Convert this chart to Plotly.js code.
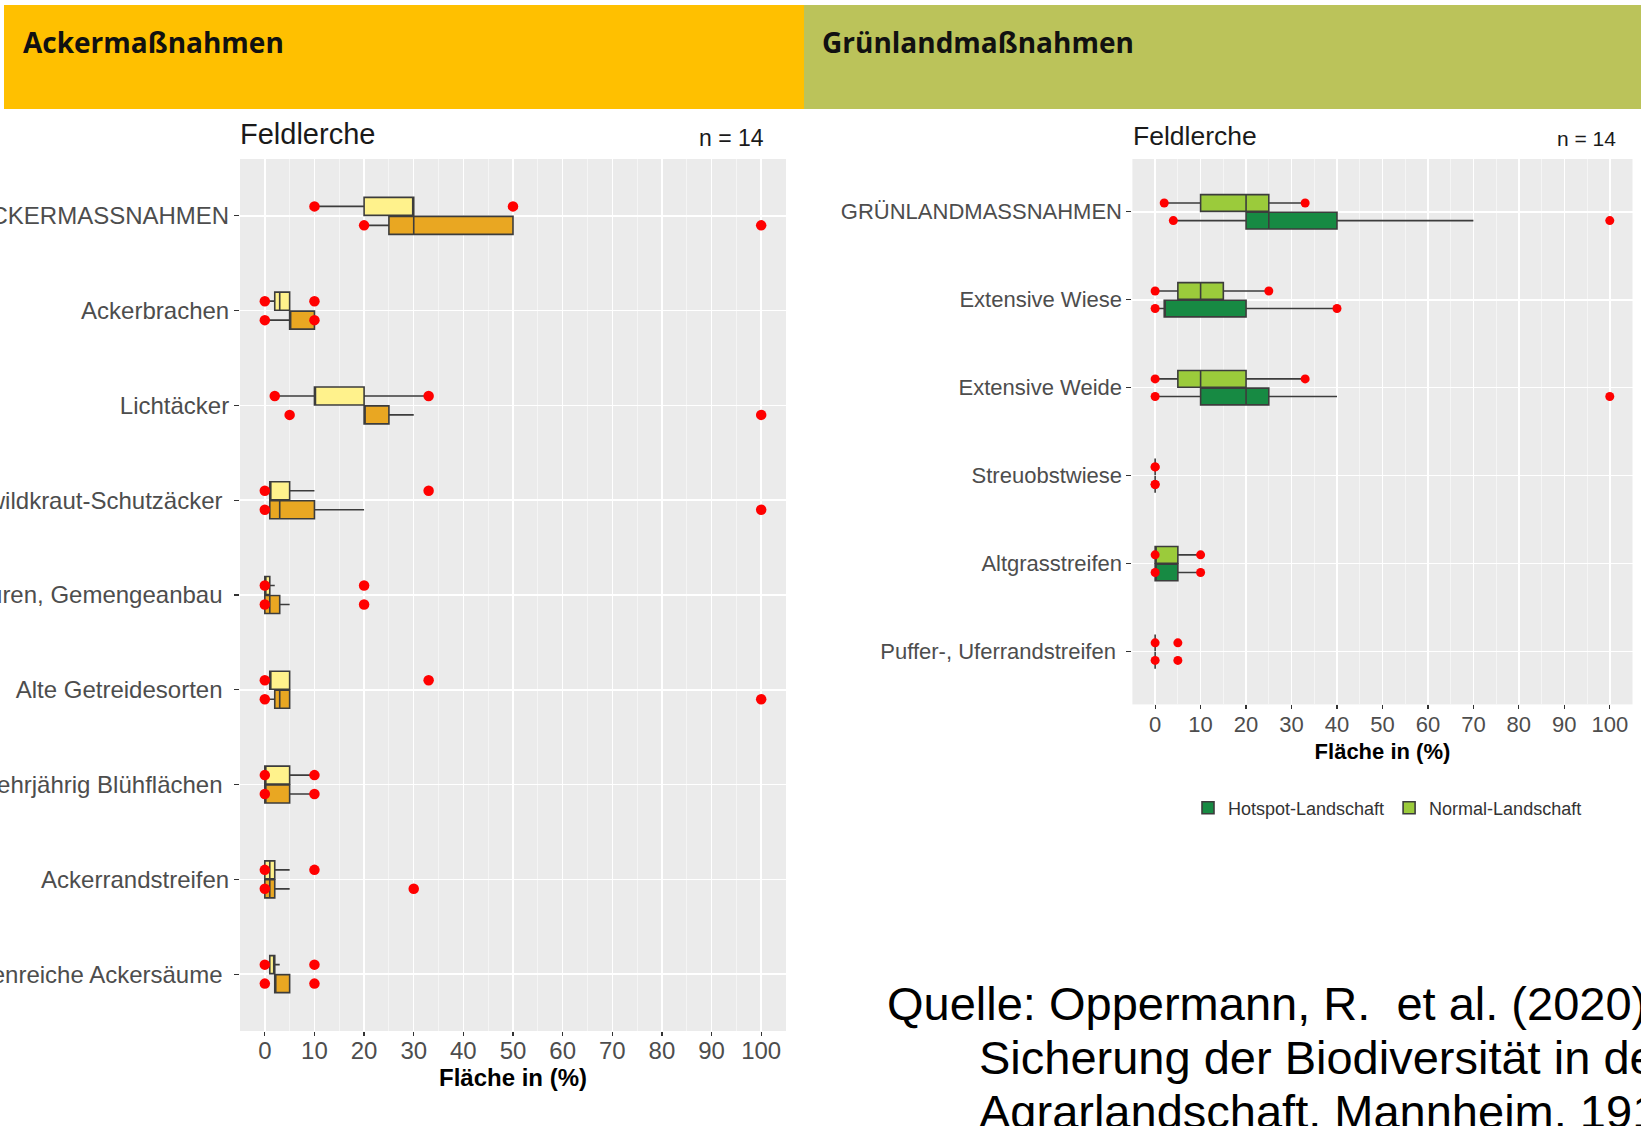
<!DOCTYPE html>
<html>
<head>
<meta charset="utf-8">
<script src="https://cdn.plot.ly/plotly-3.0.1.min.js"></script>
<style>
  html, body { margin: 0; padding: 0; background: #ffffff; }
  #chart { width: 1641px; height: 1126px; }
</style>
</head>
<body>
<div id="chart"></div>
<script>
// ---- Ackermaßnahmen (top to bottom) ----
const ackerLabels = [
  "ACKERMASSNAHMEN", "Ackerbrachen", "Lichtäcker", "Ackerwildkraut-Schutzäcker\u00a0",
  "Vielfältige Kulturen, Gemengeanbau\u00a0", "Alte Getreidesorten\u00a0",
  "Mehrjährig Blühflächen\u00a0", "Ackerrandstreifen", "Blütenreiche Ackersäume\u00a0"
];
// Normal-Landschaft
const ackerNormalLowerFence = [10, 0, 2, 0, 0, 0, 0, 0, 1];
const ackerNormalQ1         = [20, 2, 10, 1, 0, 1, 0, 0, 1];
const ackerNormalMedian     = [30, 3, 10, 1, 0, 1, 0, 1, 2];
const ackerNormalQ3         = [30, 5, 20, 5, 1, 5, 5, 2, 2];
const ackerNormalUpperFence = [30, 5, 33, 10, 2, 5, 10, 5, 3];
const ackerNormalMin        = [10, 0, 2, 0, 0, 0, 0, 0, 0];
const ackerNormalMax        = [50, 10, 33, 33, 20, 33, 10, 10, 10];
// Hotspot-Landschaft
const ackerHotspotLowerFence = [20, 0, 20, 0, 0, 0, 0, 0, 2];
const ackerHotspotQ1         = [25, 5, 20, 1, 0, 2, 0, 0, 2];
const ackerHotspotMedian     = [30, 5, 20, 3, 1, 3, 0, 1, 2];
const ackerHotspotQ3         = [50, 10, 25, 10, 3, 5, 5, 2, 5];
const ackerHotspotUpperFence = [50, 10, 30, 20, 5, 5, 10, 5, 5];
const ackerHotspotMin        = [20, 0, 5, 0, 0, 0, 0, 0, 0];
const ackerHotspotMax        = [100, 10, 100, 100, 20, 100, 10, 30, 10];

// ---- Grünlandmaßnahmen (top to bottom) ----
const gruenLabels = [
  "GRÜNLANDMASSNAHMEN", "Extensive Wiese", "Extensive Weide",
  "Streuobstwiese", "Altgrasstreifen", "Puffer-, Uferrandstreifen\u00a0"
];
const gruenNormalLowerFence = [2, 0, 0, 0, 0, 0];
const gruenNormalQ1         = [10, 5, 5, 0, 0, 0];
const gruenNormalMedian     = [20, 10, 10, 0, 0, 0];
const gruenNormalQ3         = [25, 15, 20, 0, 5, 0];
const gruenNormalUpperFence = [33, 25, 33, 0, 10, 0];
const gruenNormalMin        = [2, 0, 0, 0, 0, 0];
const gruenNormalMax        = [33, 25, 33, 0, 10, 5];

const gruenHotspotLowerFence = [4, 0, 0, 0, 0, 0];
const gruenHotspotQ1         = [20, 2, 10, 0, 0, 0];
const gruenHotspotMedian     = [25, 2, 20, 0, 0, 0];
const gruenHotspotQ3         = [40, 20, 25, 0, 5, 0];
const gruenHotspotUpperFence = [70, 40, 40, 0, 10, 0];
const gruenHotspotMin        = [4, 0, 0, 0, 0, 0];
const gruenHotspotMax        = [100, 40, 100, 0, 10, 5];

const xTicks = [0, 10, 20, 30, 40, 50, 60, 70, 80, 90, 100];

// ---- page geometry helpers ----
const W = 1641, H = 1126;
const FONT = "Liberation Sans, Arial, sans-serif";
const fx = px => px / W;
const fy = py => 1 - py / H;

const COL = {
  ackerNormal: "#FFF28C", ackerHotspot: "#E9A722",
  gruenNormal: "#9BCB3B", gruenHotspot: "#178A43",
  outline: "#3C3C3C", dot: "#FF0000"
};
const DODGE = 0.1, BOXW = 0.19;

function boxTrace(name, xa, ya, n, shift, lf, q1, med, q3, uf, fill, legend) {
  return {
    type: "box", orientation: "h", name: name,
    xaxis: xa, yaxis: ya,
    y: Array.from({length: n}, (_, i) => i + shift),
    lowerfence: lf, q1: q1, median: med, q3: q3, upperfence: uf,
    width: BOXW, whiskerwidth: 0, boxpoints: false,
    fillcolor: fill, line: {color: COL.outline, width: 1.6},
    showlegend: legend, hoverinfo: "skip"
  };
}
function dotTrace(xa, ya, shift, mins, maxs, size) {
  const xs = [], ys = [];
  mins.forEach((v, i) => { xs.push(v); ys.push(i + shift); });
  maxs.forEach((v, i) => { xs.push(v); ys.push(i + shift); });
  return {
    type: "scatter", mode: "markers", xaxis: xa, yaxis: ya,
    x: xs, y: ys, marker: {color: COL.dot, size: size},
    showlegend: false, hoverinfo: "skip", cliponaxis: false
  };
}

const nA = ackerLabels.length, nG = gruenLabels.length;
const data = [
  boxTrace("Normal-Landschaft", "x", "y", nA, -DODGE, ackerNormalLowerFence, ackerNormalQ1,
           ackerNormalMedian, ackerNormalQ3, ackerNormalUpperFence, COL.ackerNormal, false),
  boxTrace("Hotspot-Landschaft", "x", "y", nA, DODGE, ackerHotspotLowerFence, ackerHotspotQ1,
           ackerHotspotMedian, ackerHotspotQ3, ackerHotspotUpperFence, COL.ackerHotspot, false),
  dotTrace("x", "y", -DODGE, ackerNormalMin, ackerNormalMax, 10.5),
  dotTrace("x", "y", DODGE, ackerHotspotMin, ackerHotspotMax, 10.5),
  Object.assign(boxTrace("Normal-Landschaft", "x2", "y2", nG, -DODGE, gruenNormalLowerFence, gruenNormalQ1,
           gruenNormalMedian, gruenNormalQ3, gruenNormalUpperFence, COL.gruenNormal, true), {legendrank: 2}),
  Object.assign(boxTrace("Hotspot-Landschaft", "x2", "y2", nG, DODGE, gruenHotspotLowerFence, gruenHotspotQ1,
           gruenHotspotMedian, gruenHotspotQ3, gruenHotspotUpperFence, COL.gruenHotspot, true), {legendrank: 1}),
  dotTrace("x2", "y2", -DODGE, gruenNormalMin, gruenNormalMax, 9),
  dotTrace("x2", "y2", DODGE, gruenHotspotMin, gruenHotspotMax, 9)
];

function xAxis(domain, anchor, size, labelShift, titleGap) {
  return {
    domain: domain, anchor: anchor, range: [-5, 105],
    tickmode: "array", tickvals: xTicks, ticktext: xTicks.map(String),
    ticks: "outside", ticklen: 4, tickwidth: 1.2, tickcolor: "#333333",
    ticklabelstandoff: labelShift,
    tickfont: {family: FONT, size: size, color: "#4D4D4D"},
    showgrid: true, gridcolor: "#FFFFFF", gridwidth: 1.5,
    minor: {dtick: 5, tick0: 0, showgrid: true, gridcolor: "rgba(255,255,255,0.75)", gridwidth: 0.7},
    zeroline: false, showline: false, fixedrange: true,
    title: {text: "<b>Fläche in (%)</b>", font: {family: FONT, size: size, color: "#000000"}, standoff: titleGap}
  };
}
function yAxis(domain, anchor, labels, size) {
  const n = labels.length;
  return {
    domain: domain, anchor: anchor, range: [n - 0.4, -0.6],
    tickmode: "array", tickvals: labels.map((_, i) => i), ticktext: labels,
    ticks: "outside", ticklen: 5, tickwidth: 1.2, tickcolor: "#333333",
    tickfont: {family: FONT, size: size, color: "#4D4D4D"},
    showgrid: true, gridcolor: "#FFFFFF", gridwidth: 1.5,
    zeroline: false, showline: false, fixedrange: true
  };
}

function txt(text, x, y, size, opts) {
  return Object.assign({
    text: text, xref: "paper", yref: "paper", x: fx(x), y: fy(y),
    xanchor: "left", yanchor: "middle", showarrow: false,
    font: {family: FONT, size: size, color: "#1A1A1A"}
  }, opts || {});
}
const headFont = {family: "Open Sans, sans-serif", size: 28, color: "#111111"};
const citeFont = {family: FONT, size: 47, color: "#000000"};

const layout = {
  width: W, height: H,
  margin: {l: 0, r: 0, t: 0, b: 0},
  paper_bgcolor: "#FFFFFF", plot_bgcolor: "#EBEBEB",
  boxmode: "overlay",
  xaxis: xAxis([fx(240), fx(786)], "y", 24, -6, 5),
  yaxis: yAxis([fy(1031), fy(159)], "x", ackerLabels, 24),
  xaxis2: xAxis([fx(1132.4), fx(1632.5)], "y2", 22, -4, 7),
  yaxis2: yAxis([fy(704.4), fy(159)], "x2", gruenLabels, 22),
  showlegend: true,
  legend: {
    orientation: "h", x: fx(1188), y: fy(808), xanchor: "left", yanchor: "middle",
    font: {family: FONT, size: 18, color: "#333333"}, bgcolor: "rgba(0,0,0,0)",
    traceorder: "normal"
  },
  shapes: [
    {type: "rect", xref: "paper", yref: "paper", x0: fx(4), x1: fx(804), y0: fy(109), y1: fy(5),
     fillcolor: "#FFC000", line: {width: 0}, layer: "below"},
    {type: "rect", xref: "paper", yref: "paper", x0: fx(804), x1: 1, y0: fy(109), y1: fy(5),
     fillcolor: "#BBC35A", line: {width: 0}, layer: "below"}
  ],
  annotations: [
    txt("<b>Ackermaßnahmen</b>", 21, 42, 28, {font: headFont}),
    txt("<b>Grünlandmaßnahmen</b>", 820, 42, 28, {font: headFont}),
    txt("Feldlerche", 238, 134, 29),
    txt("n = 14", 766, 138, 23, {xanchor: "right"}),
    txt("Feldlerche", 1131, 136, 26.5),
    txt("n = 14", 1618, 139, 21, {xanchor: "right"}),
    txt("Quelle: Oppermann, R.\u00a0 et al. (2020):", 885, 1003, 47, {font: citeFont}),
    txt("Sicherung der Biodiversität in der", 977, 1057, 47, {font: citeFont}),
    txt("Agrarlandschaft. Mannheim. 191 S.", 977, 1111, 47, {font: citeFont})
  ]
};

Plotly.newPlot("chart", data, layout, {displayModeBar: false, staticPlot: true});
</script>
</body>
</html>
